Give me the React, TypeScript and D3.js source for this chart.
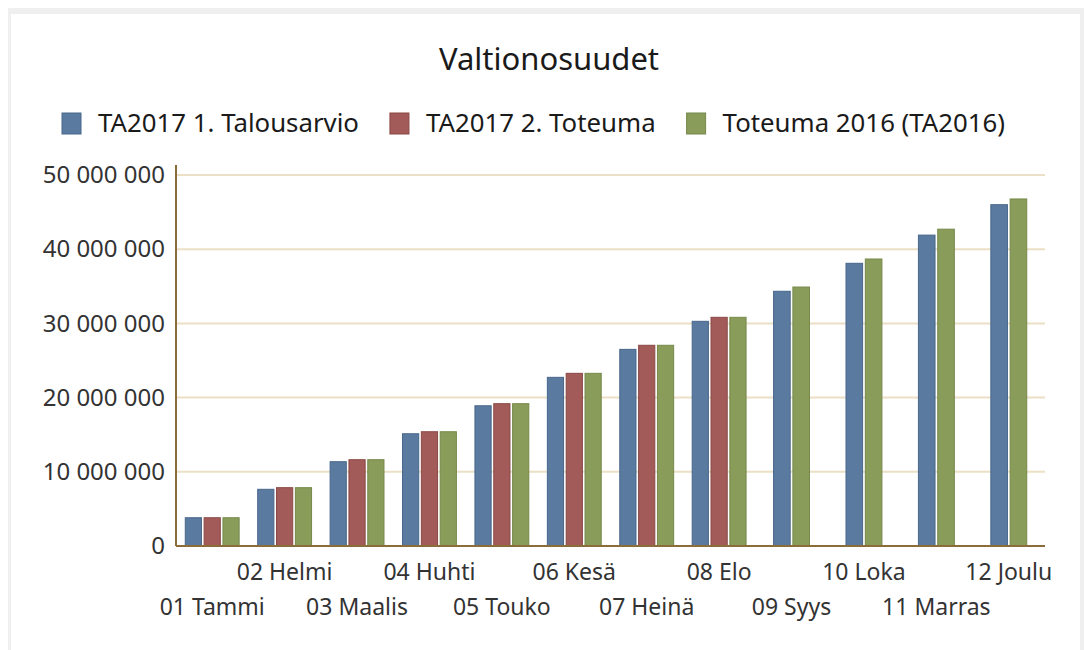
import * as d3 from "d3";
import { useEffect, useRef } from "react";

const months = [
  "01 Tammi", "02 Helmi", "03 Maalis", "04 Huhti", "05 Touko", "06 Kesä",
  "07 Heinä", "08 Elo", "09 Syys", "10 Loka", "11 Marras", "12 Joulu",
];
const seriesNames = ["TA2017 1. Talousarvio", "TA2017 2. Toteuma", "Toteuma 2016 (TA2016)"];
const talousarvio = [3.81e6, 7.64e6, 11.36e6, 15.13e6, 18.9e6, 22.73e6, 26.5e6, 30.28e6, 34.33e6, 38.1e6, 41.9e6, 46.0e6];
const toteuma2017 = [3.81e6, 7.86e6, 11.63e6, 15.4e6, 19.18e6, 23.27e6, 27.05e6, 30.82e6, null, null, null, null];
const toteuma2016 = [3.81e6, 7.86e6, 11.63e6, 15.4e6, 19.18e6, 23.27e6, 27.05e6, 30.82e6, 34.9e6, 38.68e6, 42.7e6, 46.77e6];
const yTicks = [0, 10e6, 20e6, 30e6, 40e6, 50e6];

const fills = ["#5A7A9F", "#A25B58", "#8A9C5A"];
const strokes = ["#48678C", "#8A4845", "#76884A"];

const W = 1084;
const H = 650;
const FONT = "'Noto Sans', 'Open Sans', sans-serif";

const fi = d3.formatLocale({ decimal: ",", thousands: " ", grouping: [3], currency: ["", "€"] });

const App = () => {
  const ref = useRef(null);

  useEffect(() => {
    const svg = d3.select(ref.current);
    svg.selectAll("*").remove();

    // kehys
    svg.append("rect").attr("x", 8).attr("y", 8).attr("width", W - 8).attr("height", H - 8).attr("fill", "#efefef");
    svg.append("rect").attr("x", 11).attr("y", 14).attr("width", W - 15).attr("height", H - 14).attr("fill", "#fff");

    const left = 176, right = 1045, top = 175, bottom = 546;

    const x0 = d3.scaleBand().domain(months).range([left, right]);
    const y = d3.scaleLinear().domain([0, 50e6]).range([bottom, top]);

    // otsikko
    svg.append("text").attr("x", 549).attr("y", 70).attr("text-anchor", "middle")
      .style("font-family", FONT).style("font-size", "31px").attr("fill", "#1a1a1a")
      .text("Valtionosuudet");

    // gridit
    svg.append("g").selectAll("line").data(yTicks.filter(t => t > 0)).enter().append("line")
      .attr("x1", left).attr("x2", right)
      .attr("y1", d => y(d)).attr("y2", d => y(d))
      .attr("stroke", "#EBDFC6").attr("stroke-width", 2);

    // y-akseli
    const yAxis = d3.axisLeft(y).tickValues(yTicks).tickSize(0).tickPadding(11)
      .tickFormat(d => fi.format(",")(d));
    const gy = svg.append("g").attr("transform", `translate(${left},0)`).call(yAxis);
    gy.select(".domain").remove();
    gy.selectAll("text").style("font-family", FONT).style("font-size", "24px").attr("fill", "#333");
    svg.append("line").attr("x1", left).attr("x2", left).attr("y1", 165).attr("y2", bottom)
      .attr("stroke", "#8B6D3A").attr("stroke-width", 2);

    // pylväät
    const all = [talousarvio, toteuma2017, toteuma2016];
    const step = x0.bandwidth() * 0.248;
    months.forEach((m, i) => {
      const present = all.map((s, k) => ({ k, v: s[i] })).filter(d => d.v != null);
      const x1 = d3.scaleBand().domain(present.map(d => String(d.k)))
        .range([-present.length * step / 2, present.length * step / 2]).paddingInner(0.14);
      const cx = x0(m) + x0.bandwidth() / 2;
      svg.append("g").selectAll("rect").data(present).enter().append("rect")
        .attr("x", d => cx + x1(String(d.k)))
        .attr("y", d => y(d.v))
        .attr("width", x1.bandwidth())
        .attr("height", d => bottom - y(d.v))
        .attr("fill", d => fills[d.k])
        .attr("stroke", d => strokes[d.k]).attr("stroke-width", 1);
    });

    // x-akseli
    svg.append("line").attr("x1", left).attr("x2", right).attr("y1", bottom).attr("y2", bottom)
      .attr("stroke", "#8B6D3A").attr("stroke-width", 2);
    svg.append("g").selectAll("text").data(months).enter().append("text")
      .attr("x", d => x0(d) + x0.bandwidth() / 2)
      .attr("y", (d, i) => (i % 2 === 1 ? 580 : 615))
      .attr("text-anchor", "middle")
      .style("font-family", FONT).style("font-size", "23px").attr("fill", "#333")
      .text(d => d);

    // selite
    const lg = svg.append("g");
    let lx = 0;
    seriesNames.forEach((name, k) => {
      const g = lg.append("g").attr("transform", `translate(${lx},0)`);
      g.append("rect").attr("x", 0).attr("y", 113).attr("width", 19).attr("height", 21)
        .attr("fill", fills[k]).attr("stroke", strokes[k]);
      const t = g.append("text").attr("x", 36).attr("y", 132)
        .style("font-family", FONT).style("font-size", "25.8px").attr("fill", "#1a1a1a").text(name);
      const w = (t.node() as SVGTextElement).getComputedTextLength();
      lx += 36 + w + 31;
    });
    lg.attr("transform", `translate(62,0)`);
  }, []);

  return <svg ref={ref} width={W} height={H} style={{ position: "absolute", left: 0, top: 0 }}></svg>;
};

export default App;
